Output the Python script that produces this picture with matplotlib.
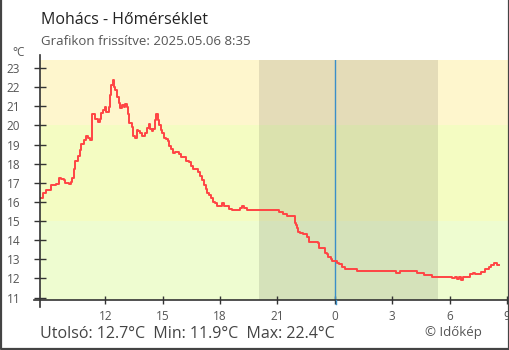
import matplotlib
matplotlib.use("Agg")
import matplotlib.pyplot as plt
from matplotlib.lines import Line2D

plt.rcParams['font.family'] = ['Open Sans', 'DejaVu Sans']

# hours since midnight of 2025.05.05 (values > 24 are next day)
hours = [8.60, 8.74, 8.91, 9.18, 9.44, 9.56, 9.70, 9.84, 9.91, 10.08,
         10.19, 10.27, 10.36, 10.43, 10.57, 10.66, 10.74, 10.88, 11.00, 11.09,
         11.18, 11.27, 11.32, 11.41, 11.48, 11.62, 11.71, 11.79, 11.88, 11.97,
         12.02, 12.10, 12.18, 12.24, 12.31, 12.38, 12.44, 12.52, 12.59, 12.70,
         12.78, 12.87, 12.98, 13.04, 13.15, 13.17, 13.25, 13.38, 13.46, 13.57,
         13.64, 13.72, 13.81, 13.90, 14.02, 14.07, 14.16, 14.27, 14.33, 14.44,
         14.51, 14.58, 14.65, 14.74, 14.82, 14.89, 14.98, 15.07, 15.17, 15.26,
         15.34, 15.43, 15.52, 15.64, 15.76, 15.87, 15.96, 16.11, 16.20, 16.39,
         16.48, 16.57, 16.74, 16.84, 16.95, 17.07, 17.16, 17.26, 17.33, 17.43,
         17.52, 17.64, 17.73, 17.85, 17.99, 18.11, 18.22, 18.38, 18.46, 18.61,
         18.95, 19.04, 19.16, 19.25, 19.39, 21.04, 21.09, 21.27, 21.48, 21.86,
         21.90, 21.97, 22.03, 22.09, 22.18, 22.30, 22.35, 22.49, 22.56, 22.66,
         22.87, 23.13, 23.19, 23.36, 23.48, 23.57, 23.65, 23.78, 23.86, 24.00,
         24.13, 24.23, 24.37, 24.54, 25.10, 25.14, 27.14, 27.19, 27.36, 27.40,
         28.28, 28.31, 28.62, 28.66, 29.06, 29.09, 30.02, 30.11, 30.28, 30.40,
         30.50, 30.58, 30.68, 31.03, 31.07, 31.24, 31.33, 31.59, 31.63, 31.80,
         31.85, 32.03, 32.08, 32.17, 32.30, 32.47, 32.50, 32.60]
temps = [16.22, 16.45, 16.62, 16.88, 16.92, 17.23, 17.18, 17.15, 16.97, 16.92,
         17.06, 17.23, 17.72, 18.15, 18.40, 18.71, 19.03, 19.24, 19.45, 19.33,
         19.24, 19.24, 20.58, 20.58, 20.32, 20.19, 20.32, 20.63, 20.80, 20.98,
         20.72, 20.72, 20.98, 21.59, 22.11, 22.40, 22.02, 21.85, 21.50, 21.15,
         20.89, 21.07, 20.98, 21.10, 20.98, 20.58, 20.11, 19.90, 19.45, 19.36,
         19.76, 19.72, 19.59, 19.46, 19.46, 19.62, 19.88, 20.07, 19.80, 19.71,
         19.80, 20.28, 20.58, 20.28, 20.02, 19.76, 19.62, 19.36, 19.27, 19.18,
         18.92, 18.75, 18.57, 18.62, 18.62, 18.50, 18.36, 18.36, 18.14, 18.10,
         17.89, 17.72, 17.70, 17.58, 17.35, 17.15, 16.88, 16.67, 16.48, 16.36,
         16.19, 16.01, 15.93, 15.80, 15.80, 15.93, 15.79, 15.79, 15.61, 15.58,
         15.58, 15.68, 15.79, 15.68, 15.58, 15.58, 15.49, 15.37, 15.28, 15.28,
         14.91, 14.79, 14.62, 14.44, 14.39, 14.39, 14.31, 14.31, 14.15, 13.92,
         13.92, 13.84, 13.61, 13.61, 13.34, 13.26, 13.10, 13.00, 12.93, 12.93,
         12.82, 12.74, 12.61, 12.51, 12.51, 12.40, 12.40, 12.30, 12.30, 12.40,
         12.40, 12.30, 12.30, 12.20, 12.20, 12.09, 12.09, 12.01, 12.09, 11.99,
         12.09, 11.90, 12.09, 12.09, 12.22, 12.30, 12.22, 12.22, 12.32, 12.32,
         12.51, 12.51, 12.61, 12.72, 12.82, 12.82, 12.72, 12.72]

x_ticks = [12, 15, 18, 21, 24, 27, 30, 33]
x_labels = ["12", "15", "18", "21", "0", "3", "6", "9"]
y_ticks = list(range(11, 24))

title = "Mohács - Hőmérséklet"
subtitle = "Grafikon frissítve: 2025.05.06 8:35"
stats = "Utolsó: 12.7°C  Min: 11.9°C  Max: 22.4°C"
credit = "© Időkép"

sunset, sunrise, midnight = 20.03, 29.39, 24.0

W, H = 510, 350
fig = plt.figure(figsize=(W / 100, H / 100), dpi=100)
ax = fig.add_axes([40.3 / W, 1 - 300 / H, (508.5 - 40.3) / W, (300 - 60) / H])
ax.set_xlim(8.6, 33.08)
ax.set_ylim(10.87, 23.42)

# temperature bands
ax.axhspan(20, 30, color="#fef6cd", lw=0)
ax.axhspan(15, 20, color="#f4fcc2", lw=0)
ax.axhspan(0, 15, color="#eefcd0", lw=0)
# night
ax.axvspan(sunset, sunrise, color="black", alpha=0.1, lw=0)
ax.axvline(midnight, color="#3a8fc8", lw=1.0)

ax.plot(hours, temps, color="#ff4444", lw=1.4, drawstyle="steps-post")

for s in ax.spines.values():
    s.set_visible(False)
ax.set_xticks(x_ticks)
ax.set_xticklabels(x_labels)
ax.set_yticks(y_ticks)
ax.tick_params(axis="y", direction="inout", length=9, width=1, color="#333333",
               labelcolor="#555555", labelsize=8.5, pad=10)
ax.tick_params(axis="x", direction="inout", length=6, width=1, color="#333333",
               labelcolor="#555555", labelsize=8.5, pad=4)

# axis lines extend a little past the plot area
fig.add_artist(Line2D([40.3 / W, 40.3 / W], [1 - 55 / H, 1 - 307 / H],
                      color="#333333", lw=1.2))
fig.add_artist(Line2D([34 / W, 508.5 / W], [1 - 300 / H, 1 - 300 / H],
                      color="#333333", lw=1.2))
fig.add_artist(Line2D([335.7 / W, 335.7 / W], [1 - 300 / H, 1 - 304 / H],
                      color="#3a8fc8", lw=1.0))

# image frame (left, bottom, right)
frame = dict(color="#444444", lw=1.6)
fig.add_artist(Line2D([0.5 / W, 0.5 / W, 1 - 0.8 / W, 1 - 0.8 / W],
                      [1, 1.2 / H, 1.2 / H, 1], **frame))

fig.text(41 / W, 1 - 24.3 / H, title, fontsize=11.5, color="#222222", va="baseline")
fig.text(41 / W, 1 - 45 / H, subtitle, fontsize=9.5, color="#555555", va="baseline")
fig.text(19 / W, 1 - 56 / H, "°C", fontsize=8.5, color="#555555", va="baseline", ha="center")
fig.text(40 / W, 1 - 338 / H, stats, fontsize=11.5, color="#444444", va="baseline")
fig.text(482 / W, 1 - 336 / H, credit, fontsize=9.5, color="#555555", va="baseline", ha="right")

fig.savefig("out.png", dpi=100)
